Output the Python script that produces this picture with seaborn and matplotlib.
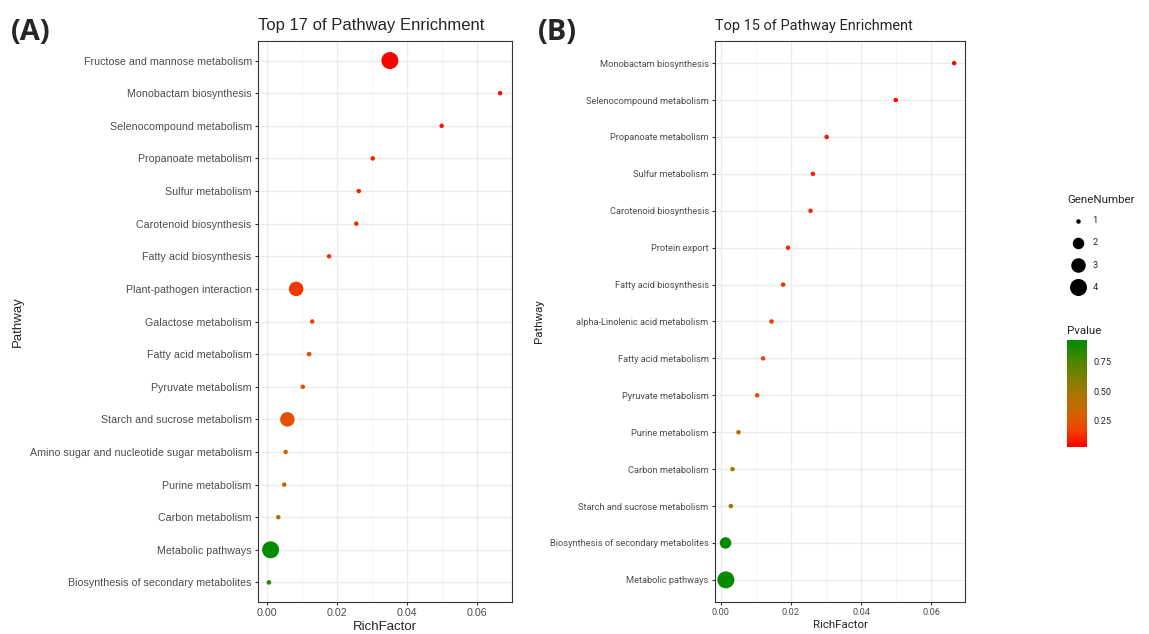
import pandas as pd
import numpy as np
import seaborn as sns
import matplotlib.pyplot as plt
from matplotlib import font_manager
from matplotlib.colors import LinearSegmentedColormap, Normalize
from matplotlib.cm import ScalarMappable

# Panel A data (top to bottom as drawn)
pathways_a = ['Fructose and mannose metabolism', 'Monobactam biosynthesis',
              'Selenocompound metabolism', 'Propanoate metabolism', 'Sulfur metabolism',
              'Carotenoid biosynthesis', 'Fatty acid biosynthesis', 'Plant-pathogen interaction',
              'Galactose metabolism', 'Fatty acid metabolism', 'Pyruvate metabolism',
              'Starch and sucrose metabolism', 'Amino sugar and nucleotide sugar metabolism',
              'Purine metabolism', 'Carbon metabolism', 'Metabolic pathways',
              'Biosynthesis of secondary metabolites']
rich_a = [0.0351, 0.0666, 0.0499, 0.0302, 0.0262, 0.0255, 0.0177, 0.0083,
          0.0129, 0.0120, 0.0102, 0.0058, 0.0053, 0.0049, 0.0032, 0.0010, 0.0005]
pval_a = [0.03, 0.05, 0.07, 0.09, 0.10, 0.11, 0.13, 0.15,
          0.17, 0.18, 0.20, 0.22, 0.33, 0.36, 0.48, 0.93, 0.88]
genes_a = [4, 1, 1, 1, 1, 1, 1, 3, 1, 1, 1, 3, 1, 1, 1, 4, 1]

# Panel B data
pathways_b = ['Monobactam biosynthesis', 'Selenocompound metabolism', 'Propanoate metabolism',
              'Sulfur metabolism', 'Carotenoid biosynthesis', 'Protein export',
              'Fatty acid biosynthesis', 'alpha-Linolenic acid metabolism',
              'Fatty acid metabolism', 'Pyruvate metabolism', 'Purine metabolism',
              'Carbon metabolism', 'Starch and sucrose metabolism',
              'Biosynthesis of secondary metabolites', 'Metabolic pathways']
rich_b = [0.0665, 0.0499, 0.0302, 0.0263, 0.0256, 0.0192, 0.0178, 0.0145,
          0.0121, 0.0104, 0.0051, 0.0034, 0.0029, 0.0014, 0.0015]
pval_b = [0.03, 0.05, 0.08, 0.10, 0.10, 0.12, 0.13, 0.15,
          0.17, 0.19, 0.37, 0.48, 0.52, 0.93, 0.92]
genes_b = [1, 1, 1, 1, 1, 1, 1, 1, 1, 1, 1, 1, 1, 2, 4]

titles = ['Top 17 of Pathway Enrichment', 'Top 15 of Pathway Enrichment']
panel_tags = ['(A)', '(B)']
size_levels = [1, 2, 3, 4]
pval_ticks = [0.25, 0.50, 0.75]

sns.set_style('white')
plt.rcParams['font.family'] = ['Liberation Sans', 'DejaVu Sans']

# panel B of the source image is squeezed sideways -> use a narrower face there
installed = {f.name for f in font_manager.fontManager.ttflist}
if 'Liberation Sans Narrow' in installed:
    fam_b, scale_b = ['Liberation Sans Narrow', 'Liberation Sans'], 1.0
elif 'Roboto' in installed:
    fam_b, scale_b = ['Roboto', 'DejaVu Sans'], 0.87
else:
    fam_b, scale_b = ['Liberation Sans', 'DejaVu Sans'], 0.86
families = [['Liberation Sans', 'DejaVu Sans'], fam_b]
scales = [1.0, scale_b]

cmap = LinearSegmentedColormap.from_list(
    'pv', ['#FF0000', '#EE4600', '#D06400', '#A87600', '#788000', '#3F8800', '#008B00'])
pnorm = (0.027, 0.934)
# marker area (pt^2) for each gene number
diam_px = {1: 4.5, 2: 11.5, 3: 14.5, 4: 17.0}
sizes = {k: (v * 0.72) ** 2 for k, v in diam_px.items()}

W, H = 1149, 634
fig = plt.figure(figsize=(W / 100, H / 100), dpi=100)
boxes = [(258, 41, 512, 602), (715, 41, 965, 602)]
xlims = [(-0.0026, 0.070), (-0.0016, 0.0696)]
tag_x = [11, 538]

panels = [(pathways_a, rich_a, pval_a, genes_a), (pathways_b, rich_b, pval_b, genes_b)]
for i, (paths, rich, pv, gn) in enumerate(panels):
    l, t, r, b = boxes[i]
    fam, sc = families[i], scales[i]
    ax = fig.add_axes([l / W, 1 - b / H, (r - l) / W, (b - t) / H])
    df = pd.DataFrame({'Pathway': paths, 'RichFactor': rich, 'Pvalue': pv, 'GeneNumber': gn})
    df = df.iloc[::-1]  # first row at top
    sns.scatterplot(data=df, x='RichFactor', y='Pathway', hue='Pvalue', palette=cmap,
                    hue_norm=pnorm, size='GeneNumber', sizes=sizes, linewidth=0,
                    legend=False, ax=ax, zorder=3)
    n = len(paths)
    ax.set_ylim(-0.6, n - 0.4)
    ax.set_xlim(*xlims[i])
    ax.set_xticks([0, 0.02, 0.04, 0.06])
    ax.set_xticklabels(['0.00', '0.02', '0.04', '0.06'])
    ax.set_xticks([0.01, 0.03, 0.05], minor=True)
    ax.grid(True, which='major', color='#EBEBEB', lw=1.0)
    ax.grid(True, which='minor', axis='x', color='#F2F2F2', lw=0.6)
    ax.set_axisbelow(True)
    for sp in ax.spines.values():
        sp.set_color('#333333')
        sp.set_linewidth(0.8)
    ax.tick_params(axis='both', which='major', length=2.5, width=0.8, color='#333333',
                   labelsize=7.7 * sc, labelcolor='#4D4D4D', pad=2, left=True, bottom=True)
    ax.tick_params(axis='both', which='minor', length=0)
    for lab in ax.get_xticklabels() + ax.get_yticklabels():
        lab.set_family(fam)
    ax.set_xlabel('RichFactor', fontsize=9.5 * sc, labelpad=2, family=fam)
    ax.set_ylabel('Pathway', fontsize=9.5 * sc, labelpad=4, family=fam)
    ax.set_title(titles[i], loc='left', fontsize=12 * sc, pad=8, family=fam)
    fig.text(tag_x[i] / W, 1 - 33 / H, panel_tags[i], fontsize=21, fontweight='bold',
             family='Open Sans', va='center', ha='left')

# GeneNumber legend
fig.text(1067 / W, 1 - 200 / H, 'GeneNumber', fontsize=9.5 * scale_b, va='center',
         ha='left', family=fam_b)
lax = fig.add_axes([1066 / W, 1 - 298 / H, 24 / W, 88 / H])
lax.set_axis_off()
lax.set_xlim(0, 1)
lax.set_ylim(len(size_levels) - 0.5, -0.5)
for j, g in enumerate(size_levels):
    lax.scatter([0.5], [j], s=sizes[g], color='black', linewidth=0)
    lax.text(1.1, j, str(g), fontsize=7.7 * scale_b, va='center', ha='left', family=fam_b)

# Pvalue colorbar
fig.text(1067 / W, 1 - 331 / H, 'Pvalue', fontsize=9.5 * scale_b, va='center', ha='left',
         family=fam_b)
cax = fig.add_axes([1067 / W, 1 - 447 / H, 20 / W, 107 / H])
sm = ScalarMappable(norm=Normalize(*pnorm), cmap=cmap)
cb = fig.colorbar(sm, cax=cax, ticks=pval_ticks)
cb.outline.set_visible(False)
cb.ax.set_yticklabels(['0.25', '0.50', '0.75'])
cb.ax.tick_params(length=4, width=0.6, color='white', direction='in', labelsize=7.7 * scale_b,
                  left=True, right=True, pad=5)
for lab in cb.ax.get_yticklabels():
    lab.set_family(fam_b)

fig.savefig('out.png', dpi=100)
